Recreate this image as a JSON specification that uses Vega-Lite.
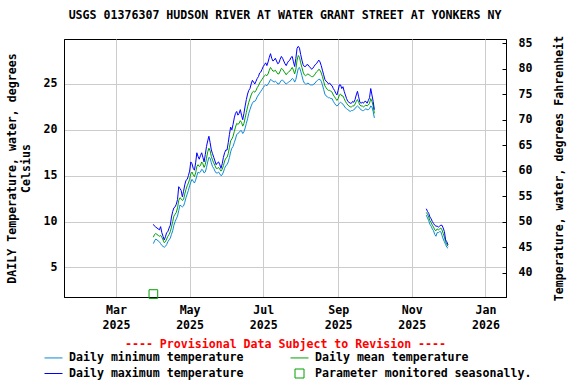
{
  "$schema": "https://vega.github.io/schema/vega-lite/v6.json",
  "width": 442,
  "height": 258,
  "autosize": "none",
  "padding": {"left": 64, "top": 39, "right": 70, "bottom": 87},
  "background": "white",
  "title": {"text": "USGS 01376307 HUDSON RIVER AT WATER GRANT STREET AT YONKERS NY", "font": "DejaVu Sans Mono", "fontSize": 11.6, "fontWeight": "bold", "color": "black", "anchor": "middle", "offset": 14},
  "config": {
    "view": {"stroke": "black", "strokeWidth": 1},
    "axis": {"labelFont": "DejaVu Sans Mono", "labelFontSize": 11.6, "labelFontWeight": "bold", "labelColor": "black", "titleFont": "DejaVu Sans Mono", "titleFontSize": 11.6, "titleFontWeight": "bold", "titleColor": "black", "domainColor": "black", "gridColor": "#cccccc", "gridWidth": 1}
  },
  "datasets": {
    "t": [
      {"d":"2025-04-01","s":1,"mx":9.7,"me":8.3,"mn":7.6},
      {"d":"2025-04-02","s":1,"mx":9.5,"me":8.6,"mn":7.9},
      {"d":"2025-04-03","s":1,"mx":9.4,"me":8.7,"mn":8.1},
      {"d":"2025-04-04","s":1,"mx":9.3,"me":8.6,"mn":8.0},
      {"d":"2025-04-05","s":1,"mx":9.2,"me":8.5,"mn":7.9},
      {"d":"2025-04-06","s":1,"mx":9.1,"me":8.4,"mn":7.8},
      {"d":"2025-04-07","s":1,"mx":9.45,"me":8.5,"mn":7.6},
      {"d":"2025-04-08","s":1,"mx":8.8,"me":8.3,"mn":7.4},
      {"d":"2025-04-09","s":1,"mx":8.4,"me":8.0,"mn":7.3},
      {"d":"2025-04-10","s":1,"mx":8.0,"me":7.7,"mn":7.2},
      {"d":"2025-04-11","s":1,"mx":8.35,"me":7.8,"mn":7.3},
      {"d":"2025-04-12","s":1,"mx":8.8,"me":8.1,"mn":7.5},
      {"d":"2025-04-13","s":1,"mx":8.9,"me":8.4,"mn":7.8},
      {"d":"2025-04-14","s":1,"mx":9.3,"me":8.6,"mn":8.0},
      {"d":"2025-04-15","s":1,"mx":9.6,"me":8.9,"mn":8.2},
      {"d":"2025-04-16","s":1,"mx":10.5,"me":9.4,"mn":8.6},
      {"d":"2025-04-17","s":1,"mx":11.1,"me":10.0,"mn":9.0},
      {"d":"2025-04-18","s":1,"mx":11.5,"me":10.6,"mn":9.6},
      {"d":"2025-04-19","s":1,"mx":11.6,"me":10.8,"mn":10.0},
      {"d":"2025-04-20","s":1,"mx":11.9,"me":11.0,"mn":10.3},
      {"d":"2025-04-21","s":1,"mx":12.4,"me":11.5,"mn":10.6},
      {"d":"2025-04-22","s":1,"mx":13.8,"me":12.3,"mn":11.2},
      {"d":"2025-04-23","s":1,"mx":13.6,"me":12.6,"mn":11.8},
      {"d":"2025-04-24","s":1,"mx":13.4,"me":12.5,"mn":11.7},
      {"d":"2025-04-25","s":1,"mx":12.7,"me":12.3,"mn":11.6},
      {"d":"2025-04-26","s":1,"mx":13.3,"me":12.4,"mn":11.7},
      {"d":"2025-04-27","s":1,"mx":14.0,"me":13.0,"mn":12.1},
      {"d":"2025-04-28","s":1,"mx":14.5,"me":13.5,"mn":12.6},
      {"d":"2025-04-29","s":1,"mx":14.6,"me":13.9,"mn":13.0},
      {"d":"2025-04-30","s":1,"mx":15.0,"me":14.2,"mn":13.4},
      {"d":"2025-05-01","s":1,"mx":15.5,"me":14.6,"mn":13.9},
      {"d":"2025-05-02","s":1,"mx":16.5,"me":15.2,"mn":14.3},
      {"d":"2025-05-03","s":1,"mx":16.3,"me":15.4,"mn":14.6},
      {"d":"2025-05-04","s":1,"mx":15.8,"me":15.1,"mn":14.4},
      {"d":"2025-05-05","s":1,"mx":15.6,"me":14.9,"mn":14.2},
      {"d":"2025-05-06","s":1,"mx":16.4,"me":15.3,"mn":14.5},
      {"d":"2025-05-07","s":1,"mx":17.5,"me":16.0,"mn":15.0},
      {"d":"2025-05-08","s":1,"mx":17.1,"me":16.2,"mn":15.4},
      {"d":"2025-05-09","s":1,"mx":16.8,"me":16.0,"mn":15.3},
      {"d":"2025-05-10","s":1,"mx":17.2,"me":16.1,"mn":15.4},
      {"d":"2025-05-11","s":1,"mx":17.5,"me":16.5,"mn":15.7},
      {"d":"2025-05-12","s":1,"mx":17.0,"me":16.3,"mn":15.6},
      {"d":"2025-05-13","s":1,"mx":16.5,"me":15.9,"mn":15.3},
      {"d":"2025-05-14","s":1,"mx":17.3,"me":16.2,"mn":15.4},
      {"d":"2025-05-15","s":1,"mx":18.2,"me":16.9,"mn":15.9},
      {"d":"2025-05-16","s":1,"mx":18.8,"me":17.6,"mn":16.5},
      {"d":"2025-05-17","s":1,"mx":19.3,"me":18.0,"mn":17.0},
      {"d":"2025-05-18","s":1,"mx":18.6,"me":17.7,"mn":16.9},
      {"d":"2025-05-19","s":1,"mx":17.8,"me":17.1,"mn":16.4},
      {"d":"2025-05-20","s":1,"mx":17.4,"me":16.7,"mn":16.0},
      {"d":"2025-05-21","s":1,"mx":17.0,"me":16.4,"mn":15.8},
      {"d":"2025-05-22","s":1,"mx":16.6,"me":16.1,"mn":15.5},
      {"d":"2025-05-23","s":1,"mx":16.2,"me":15.8,"mn":15.3},
      {"d":"2025-05-24","s":1,"mx":16.4,"me":15.8,"mn":15.3},
      {"d":"2025-05-25","s":1,"mx":16.5,"me":15.9,"mn":15.4},
      {"d":"2025-05-26","s":1,"mx":16.2,"me":15.7,"mn":15.2},
      {"d":"2025-05-27","s":1,"mx":15.8,"me":15.5,"mn":15.0},
      {"d":"2025-05-28","s":1,"mx":16.3,"me":15.7,"mn":15.1},
      {"d":"2025-05-29","s":1,"mx":17.0,"me":16.1,"mn":15.4},
      {"d":"2025-05-30","s":1,"mx":17.5,"me":16.6,"mn":15.8},
      {"d":"2025-05-31","s":1,"mx":17.8,"me":16.9,"mn":16.1},
      {"d":"2025-06-01","s":1,"mx":17.8,"me":17.0,"mn":16.2},
      {"d":"2025-06-02","s":1,"mx":18.6,"me":17.4,"mn":16.5},
      {"d":"2025-06-03","s":1,"mx":19.5,"me":18.1,"mn":17.0},
      {"d":"2025-06-04","s":1,"mx":20.3,"me":18.8,"mn":17.6},
      {"d":"2025-06-05","s":1,"mx":20.0,"me":19.0,"mn":18.0},
      {"d":"2025-06-06","s":1,"mx":20.6,"me":19.3,"mn":18.2},
      {"d":"2025-06-07","s":1,"mx":21.3,"me":19.8,"mn":18.6},
      {"d":"2025-06-08","s":1,"mx":21.8,"me":20.3,"mn":19.0},
      {"d":"2025-06-09","s":1,"mx":22.0,"me":20.7,"mn":19.5},
      {"d":"2025-06-10","s":1,"mx":21.6,"me":20.6,"mn":19.6},
      {"d":"2025-06-11","s":1,"mx":21.8,"me":20.7,"mn":19.7},
      {"d":"2025-06-12","s":1,"mx":22.2,"me":21.0,"mn":19.9},
      {"d":"2025-06-13","s":1,"mx":21.6,"me":20.8,"mn":19.9},
      {"d":"2025-06-14","s":1,"mx":21.1,"me":20.4,"mn":19.6},
      {"d":"2025-06-15","s":1,"mx":21.8,"me":20.7,"mn":19.8},
      {"d":"2025-06-16","s":1,"mx":22.6,"me":21.3,"mn":20.2},
      {"d":"2025-06-17","s":1,"mx":23.3,"me":21.9,"mn":20.7},
      {"d":"2025-06-18","s":1,"mx":23.9,"me":22.5,"mn":21.2},
      {"d":"2025-06-19","s":1,"mx":24.3,"me":23.0,"mn":21.8},
      {"d":"2025-06-20","s":1,"mx":24.5,"me":23.4,"mn":22.2},
      {"d":"2025-06-21","s":1,"mx":25.0,"me":23.8,"mn":22.6},
      {"d":"2025-06-22","s":1,"mx":25.4,"me":24.1,"mn":22.9},
      {"d":"2025-06-23","s":1,"mx":25.2,"me":24.2,"mn":23.1},
      {"d":"2025-06-24","s":1,"mx":25.0,"me":24.1,"mn":23.1},
      {"d":"2025-06-25","s":1,"mx":25.3,"me":24.3,"mn":23.3},
      {"d":"2025-06-26","s":1,"mx":25.6,"me":24.6,"mn":23.6},
      {"d":"2025-06-27","s":1,"mx":25.8,"me":24.8,"mn":23.8},
      {"d":"2025-06-28","s":1,"mx":26.2,"me":25.1,"mn":24.0},
      {"d":"2025-06-29","s":1,"mx":26.3,"me":25.3,"mn":24.2},
      {"d":"2025-06-30","s":1,"mx":26.6,"me":25.5,"mn":24.4},
      {"d":"2025-07-01","s":1,"mx":26.9,"me":25.7,"mn":24.6},
      {"d":"2025-07-02","s":1,"mx":27.1,"me":25.9,"mn":24.8},
      {"d":"2025-07-03","s":1,"mx":27.3,"me":26.0,"mn":24.9},
      {"d":"2025-07-04","s":1,"mx":27.0,"me":25.9,"mn":24.8},
      {"d":"2025-07-05","s":1,"mx":27.4,"me":26.1,"mn":25.0},
      {"d":"2025-07-06","s":1,"mx":27.9,"me":26.5,"mn":25.2},
      {"d":"2025-07-07","s":1,"mx":28.3,"me":26.8,"mn":25.5},
      {"d":"2025-07-08","s":1,"mx":27.8,"me":26.6,"mn":25.4},
      {"d":"2025-07-09","s":1,"mx":27.5,"me":26.4,"mn":25.3},
      {"d":"2025-07-10","s":1,"mx":27.6,"me":26.4,"mn":25.2},
      {"d":"2025-07-11","s":1,"mx":27.8,"me":26.5,"mn":25.3},
      {"d":"2025-07-12","s":1,"mx":27.5,"me":26.3,"mn":25.2},
      {"d":"2025-07-13","s":1,"mx":27.2,"me":26.1,"mn":25.0},
      {"d":"2025-07-14","s":1,"mx":27.3,"me":26.1,"mn":25.0},
      {"d":"2025-07-15","s":1,"mx":27.7,"me":26.4,"mn":25.2},
      {"d":"2025-07-16","s":1,"mx":28.0,"me":26.7,"mn":25.4},
      {"d":"2025-07-17","s":1,"mx":27.8,"me":26.6,"mn":25.4},
      {"d":"2025-07-18","s":1,"mx":27.5,"me":26.4,"mn":25.3},
      {"d":"2025-07-19","s":1,"mx":27.2,"me":26.2,"mn":25.1},
      {"d":"2025-07-20","s":1,"mx":27.0,"me":26.0,"mn":25.0},
      {"d":"2025-07-21","s":1,"mx":27.3,"me":26.2,"mn":25.1},
      {"d":"2025-07-22","s":1,"mx":27.5,"me":26.3,"mn":25.2},
      {"d":"2025-07-23","s":1,"mx":27.6,"me":26.4,"mn":25.3},
      {"d":"2025-07-24","s":1,"mx":27.9,"me":26.6,"mn":25.4},
      {"d":"2025-07-25","s":1,"mx":28.0,"me":26.8,"mn":25.6},
      {"d":"2025-07-26","s":1,"mx":27.4,"me":26.5,"mn":25.5},
      {"d":"2025-07-27","s":1,"mx":26.9,"me":26.1,"mn":25.2},
      {"d":"2025-07-28","s":1,"mx":27.8,"me":26.6,"mn":25.5},
      {"d":"2025-07-29","s":1,"mx":28.9,"me":27.6,"mn":26.1},
      {"d":"2025-07-30","s":1,"mx":29.1,"me":28.1,"mn":26.7},
      {"d":"2025-07-31","s":1,"mx":28.9,"me":27.9,"mn":26.8},
      {"d":"2025-08-01","s":1,"mx":28.2,"me":27.3,"mn":26.4},
      {"d":"2025-08-02","s":1,"mx":27.6,"me":26.8,"mn":25.9},
      {"d":"2025-08-03","s":1,"mx":27.1,"me":26.3,"mn":25.4},
      {"d":"2025-08-04","s":1,"mx":26.9,"me":26.0,"mn":25.1},
      {"d":"2025-08-05","s":1,"mx":26.9,"me":25.9,"mn":25.0},
      {"d":"2025-08-06","s":1,"mx":27.1,"me":26.0,"mn":25.0},
      {"d":"2025-08-07","s":1,"mx":27.1,"me":26.1,"mn":25.1},
      {"d":"2025-08-08","s":1,"mx":26.9,"me":26.0,"mn":25.0},
      {"d":"2025-08-09","s":1,"mx":26.8,"me":25.9,"mn":24.9},
      {"d":"2025-08-10","s":1,"mx":26.6,"me":25.8,"mn":24.9},
      {"d":"2025-08-11","s":1,"mx":26.7,"me":25.8,"mn":24.9},
      {"d":"2025-08-12","s":1,"mx":26.9,"me":25.9,"mn":25.0},
      {"d":"2025-08-13","s":1,"mx":27.1,"me":26.1,"mn":25.1},
      {"d":"2025-08-14","s":1,"mx":27.2,"me":26.3,"mn":25.3},
      {"d":"2025-08-15","s":1,"mx":27.4,"me":26.4,"mn":25.4},
      {"d":"2025-08-16","s":1,"mx":27.6,"me":26.6,"mn":25.5},
      {"d":"2025-08-17","s":1,"mx":27.4,"me":26.5,"mn":25.5},
      {"d":"2025-08-18","s":1,"mx":27.0,"me":26.2,"mn":25.3},
      {"d":"2025-08-19","s":1,"mx":26.5,"me":25.8,"mn":24.9},
      {"d":"2025-08-20","s":1,"mx":26.0,"me":25.3,"mn":24.4},
      {"d":"2025-08-21","s":1,"mx":25.5,"me":24.8,"mn":23.9},
      {"d":"2025-08-22","s":1,"mx":25.3,"me":24.6,"mn":23.7},
      {"d":"2025-08-23","s":1,"mx":25.2,"me":24.4,"mn":23.6},
      {"d":"2025-08-24","s":1,"mx":25.0,"me":24.3,"mn":23.5},
      {"d":"2025-08-25","s":1,"mx":25.1,"me":24.3,"mn":23.5},
      {"d":"2025-08-26","s":1,"mx":24.9,"me":24.2,"mn":23.4},
      {"d":"2025-08-27","s":1,"mx":24.8,"me":24.1,"mn":23.4},
      {"d":"2025-08-28","s":1,"mx":24.5,"me":23.8,"mn":23.1},
      {"d":"2025-08-29","s":1,"mx":24.3,"me":23.6,"mn":22.9},
      {"d":"2025-08-30","s":1,"mx":24.0,"me":23.4,"mn":22.7},
      {"d":"2025-08-31","s":1,"mx":23.8,"me":23.2,"mn":22.6},
      {"d":"2025-09-01","s":1,"mx":24.3,"me":23.4,"mn":22.7},
      {"d":"2025-09-02","s":1,"mx":24.9,"me":23.8,"mn":22.9},
      {"d":"2025-09-03","s":1,"mx":24.9,"me":23.9,"mn":23.0},
      {"d":"2025-09-04","s":1,"mx":24.5,"me":23.7,"mn":22.9},
      {"d":"2025-09-05","s":1,"mx":24.7,"me":23.7,"mn":22.8},
      {"d":"2025-09-06","s":1,"mx":24.2,"me":23.4,"mn":22.6},
      {"d":"2025-09-07","s":1,"mx":23.8,"me":23.1,"mn":22.4},
      {"d":"2025-09-08","s":1,"mx":23.4,"me":22.9,"mn":22.3},
      {"d":"2025-09-09","s":1,"mx":23.1,"me":22.7,"mn":22.2},
      {"d":"2025-09-10","s":1,"mx":23.0,"me":22.6,"mn":22.1},
      {"d":"2025-09-11","s":1,"mx":22.9,"me":22.5,"mn":22.0},
      {"d":"2025-09-12","s":1,"mx":22.9,"me":22.5,"mn":22.1},
      {"d":"2025-09-13","s":1,"mx":23.1,"me":22.6,"mn":22.1},
      {"d":"2025-09-14","s":1,"mx":23.0,"me":22.6,"mn":22.2},
      {"d":"2025-09-15","s":1,"mx":23.3,"me":22.8,"mn":22.3},
      {"d":"2025-09-16","s":1,"mx":23.8,"me":23.1,"mn":22.5},
      {"d":"2025-09-17","s":1,"mx":24.2,"me":23.3,"mn":22.6},
      {"d":"2025-09-18","s":1,"mx":23.6,"me":23.0,"mn":22.5},
      {"d":"2025-09-19","s":1,"mx":23.0,"me":22.7,"mn":22.3},
      {"d":"2025-09-20","s":1,"mx":22.9,"me":22.6,"mn":22.2},
      {"d":"2025-09-21","s":1,"mx":23.0,"me":22.6,"mn":22.1},
      {"d":"2025-09-22","s":1,"mx":22.9,"me":22.5,"mn":22.1},
      {"d":"2025-09-23","s":1,"mx":23.1,"me":22.6,"mn":22.2},
      {"d":"2025-09-24","s":1,"mx":23.1,"me":22.7,"mn":22.3},
      {"d":"2025-09-25","s":1,"mx":22.9,"me":22.6,"mn":22.2},
      {"d":"2025-09-26","s":1,"mx":23.2,"me":22.7,"mn":22.2},
      {"d":"2025-09-27","s":1,"mx":23.5,"me":22.9,"mn":22.3},
      {"d":"2025-09-28","s":1,"mx":24.5,"me":23.4,"mn":22.6},
      {"d":"2025-09-29","s":1,"mx":23.8,"me":23.1,"mn":22.5},
      {"d":"2025-09-30","s":1,"mx":23.1,"me":22.6,"mn":22.0},
      {"d":"2025-10-01","s":1,"mx":22.2,"me":21.8,"mn":21.3},
      {"d":"2025-11-13","s":2,"mx":11.4,"me":11.0,"mn":10.7},
      {"d":"2025-11-14","s":2,"mx":11.1,"me":10.8,"mn":10.4},
      {"d":"2025-11-15","s":2,"mx":10.9,"me":10.5,"mn":10.1},
      {"d":"2025-11-16","s":2,"mx":10.5,"me":10.1,"mn":9.7},
      {"d":"2025-11-17","s":2,"mx":10.3,"me":9.9,"mn":9.5},
      {"d":"2025-11-18","s":2,"mx":10.0,"me":9.6,"mn":9.2},
      {"d":"2025-11-19","s":2,"mx":9.8,"me":9.4,"mn":9.0},
      {"d":"2025-11-20","s":2,"mx":9.6,"me":9.1,"mn":8.6},
      {"d":"2025-11-21","s":2,"mx":9.5,"me":9.0,"mn":8.4},
      {"d":"2025-11-22","s":2,"mx":9.5,"me":9.2,"mn":8.8},
      {"d":"2025-11-23","s":2,"mx":9.4,"me":9.1,"mn":8.8},
      {"d":"2025-11-24","s":2,"mx":9.5,"me":9.2,"mn":8.9},
      {"d":"2025-11-25","s":2,"mx":9.6,"me":9.3,"mn":8.9},
      {"d":"2025-11-26","s":2,"mx":9.6,"me":9.1,"mn":8.5},
      {"d":"2025-11-27","s":2,"mx":9.3,"me":8.7,"mn":8.1},
      {"d":"2025-11-28","s":2,"mx":8.9,"me":8.3,"mn":7.8},
      {"d":"2025-11-29","s":2,"mx":8.0,"me":7.8,"mn":7.5},
      {"d":"2025-11-30","s":2,"mx":7.8,"me":7.5,"mn":7.2},
      {"d":"2025-12-01","s":2,"mx":7.45,"me":7.3,"mn":7.1}
    ],
    "m": [{"d": "2025-04-01", "k": "ps", "v": 2.1}],
    "f": [{"f": 35.2}, {"f": 85.8}]
  },
  "layer": [
    {
      "layer": [
        {
          "data": {"name": "t"},
          "transform": [{"fold": ["mn", "me", "mx"], "as": ["k", "v"]}],
          "mark": {"type": "line", "strokeWidth": 1, "interpolate": "linear"},
          "encoding": {
            "x": {"field": "d", "type": "temporal",
              "scale": {"type": "utc", "domain": [{"year": 2025, "month": 1, "date": 17, "utc": true}, {"year": 2026, "month": 1, "date": 18, "utc": true}]},
              "axis": {"values": [{"year": 2025, "month": 3, "date": 1, "utc": true}, {"year": 2025, "month": 5, "date": 1, "utc": true}, {"year": 2025, "month": 7, "date": 1, "utc": true}, {"year": 2025, "month": 9, "date": 1, "utc": true}, {"year": 2025, "month": 11, "date": 1, "utc": true}, {"year": 2026, "month": 1, "date": 1, "utc": true}],
                "labelExpr": "[utcFormat(datum.value, '%b'), utcFormat(datum.value, '%Y')]",
                "ticks": false, "grid": true, "labelPadding": 7, "labelBaseline": "top", "labelLineHeight": 15,
                "title": "---- Provisional Data Subject to Revision ----", "titleColor": "#ff0000", "titlePadding": 8}},
            "y": {"field": "v", "type": "quantitative",
              "scale": {"domain": [1.78, 29.9], "nice": false, "zero": false},
              "axis": {"orient": "left", "values": [5, 10, 15, 20, 25], "ticks": false, "grid": true, "labelPadding": 7,
                "title": ["DAILY Temperature, water, degrees", "Celsius"], "titlePadding": 12}},
            "color": {"field": "k", "type": "nominal",
              "scale": {"domain": ["mn", "mx", "me", "ps"], "range": ["#0a8ad8", "#0000ff", "#00a000", "#00a000"]},
              "legend": {"orient": "none", "legendX": -20, "legendY": 309, "columns": 2, "columnPadding": 44, "rowPadding": -2, "padding": 0,
                "title": null, "symbolType": "stroke", "symbolSize": 324, "symbolStrokeWidth": 1, "symbolFillColor": "transparent", "labelLimit": 0,
                "labelFont": "DejaVu Sans Mono", "labelFontSize": 11.6, "labelFontWeight": "bold", "labelColor": "black", "labelOffset": 6,
                "labelExpr": "datum.label == 'mn' ? 'Daily minimum temperature' : datum.label == 'me' ? 'Daily mean temperature' : datum.label == 'mx' ? 'Daily maximum temperature' : 'Parameter monitored seasonally.'",
                "encode": {"symbols": {"update": {
                  "size": {"signal": "datum.value == 'ps' ? 81 : 324"},
                  "shape": {"signal": "datum.value == 'ps' ? 'square' : 'stroke'"},
                  "stroke": {"signal": "datum.value == 'mn' ? '#0a8ad8' : datum.value == 'mx' ? '#0000ff' : '#00a000'"},
                  "fill": {"value": "transparent"},
                  "opacity": {"value": 1},
                  "strokeWidth": {"value": 1}}}}}},
            "detail": {"field": "s"}
          }
        },
        {
          "data": {"name": "m"},
          "mark": {"type": "point", "shape": "square", "filled": false, "size": 75, "strokeWidth": 1, "opacity": 1},
          "encoding": {
            "x": {"field": "d", "type": "temporal"},
            "y": {"field": "v", "type": "quantitative"},
            "color": {"field": "k", "type": "nominal"}
          }
        }
      ]
    },
    {
      "data": {"name": "f"},
      "mark": {"type": "rule", "opacity": 0},
      "encoding": {
        "y": {"field": "f", "type": "quantitative",
          "scale": {"domain": [35.24, 85.82], "nice": false, "zero": false},
          "axis": {"orient": "right", "values": [40, 45, 50, 55, 60, 65, 70, 75, 80, 85], "grid": false, "ticks": true, "tickSize": -4, "tickColor": "black", "labelPadding": 16,
            "title": "Temperature, water, degrees Fahrenheit", "titleAngle": -90, "titlePadding": 33}}
      }
    }
  ],
  "resolve": {"scale": {"y": "independent"}}
}
